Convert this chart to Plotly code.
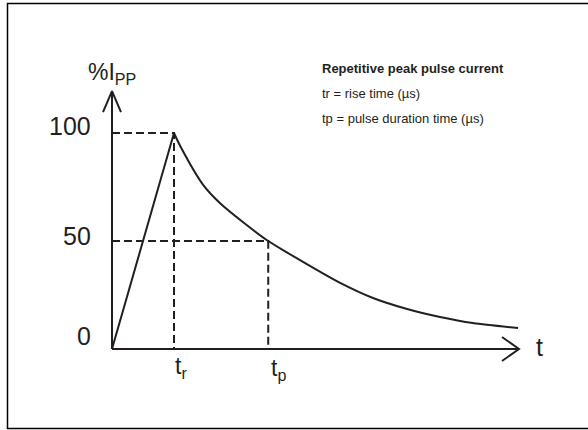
import plotly.graph_objects as go

# ---- data ----
t_rise = [0.0, 1.0]
i_rise = [0, 100]

t_decay = [1.0, 1.1, 1.47, 1.74, 2.11, 2.52, 2.84, 3.68, 4.21, 4.76, 5.29, 5.82, 6.55]
i_decay = [100, 94, 76, 67.6, 58.8, 50, 44.4, 30.6, 23.6, 18.5, 14.8, 12.0, 9.7]

t_r = 1.0
t_p = 2.52
y_ticks = [0, 50, 100]
y_tick_labels = ["0", "50", "100"]

legend_title = "Repetitive peak pulse current"
legend_lines = ["tr = rise time (µs)", "tp = pulse duration time (µs)"]

INK = "#231f20"
FONT = "Liberation Sans, Arial, sans-serif"

x_end = 6.565
y_top = 119.4

fig = go.Figure()

def line(xs, ys, dash="solid", width=2):
    fig.add_trace(go.Scatter(x=xs, y=ys, mode="lines", hoverinfo="skip",
                             line=dict(color=INK, width=width, dash=dash),
                             showlegend=False))

# axes
line([0, 0], [0, y_top])
line([0, x_end], [0, 0])
# arrow heads (open chevrons)
line([-0.145, 0, 0.145], [109.7, y_top, 109.7])
line([6.29, x_end, 6.29], [5.56, 0, -5.56])

# dashed guides
line([0, t_r, t_r], [100, 100, 0], dash="8px,4px")
line([0, t_p, t_p], [50, 50, 0], dash="8px,4px")

# pulse
line(t_rise, i_rise)
fig.add_trace(go.Scatter(x=t_decay, y=i_decay, mode="lines", hoverinfo="skip",
                         line=dict(color=INK, width=2, shape="spline", smoothing=0.8),
                         showlegend=False))

ann = []
# y tick labels
label_offsets = {0: 6, 50: 2.3, 100: 3.2}
for v, lab in zip(y_ticks, y_tick_labels):
    ann.append(dict(x=-0.31, y=v + label_offsets[v], text=lab, xanchor="right", yanchor="middle",
                    showarrow=False, font=dict(size=25, color=INK, family=FONT)))
# axis titles
ann.append(dict(x=0, y=127.5, text="%I<sub>PP</sub>", xanchor="center", yanchor="middle",
                showarrow=False, font=dict(size=23, color=INK, family=FONT)))
ann.append(dict(x=6.8, y=1, text="t", xanchor="left", yanchor="middle",
                showarrow=False, font=dict(size=25, color=INK, family=FONT)))
# time labels
ann.append(dict(x=t_r + 0.12, y=-8.5, text="t<sub>r</sub>", xanchor="center", yanchor="middle",
                showarrow=False, font=dict(size=23, color=INK, family=FONT)))
ann.append(dict(x=t_p + 0.16, y=-9.5, text="t<sub>p</sub>", xanchor="center", yanchor="middle",
                showarrow=False, font=dict(size=23, color=INK, family=FONT)))
# legend text block
ann.append(dict(x=(320 - 112) / 62, y=(349 - 68) / 2.16, text="<b>" + legend_title + "</b>",
                xanchor="left", yanchor="middle", showarrow=False,
                font=dict(size=13, color=INK, family=FONT)))
for k, txt in enumerate(legend_lines):
    ann.append(dict(x=(320 - 112) / 62, y=(349 - (93 + 25 * k)) / 2.16, text=txt,
                    xanchor="left", yanchor="middle", showarrow=False,
                    font=dict(size=13, color=INK, family=FONT)))

fig.update_layout(
    width=588, height=430,
    margin=dict(l=0, r=0, t=0, b=0),
    paper_bgcolor="white", plot_bgcolor="white",
    xaxis=dict(range=[-112 / 62, 476 / 62], visible=False, fixedrange=True),
    yaxis=dict(range=[-81 / 2.16, 349 / 2.16], visible=False, fixedrange=True),
    annotations=ann,
    shapes=[dict(type="rect", xref="paper", yref="paper",
                 x0=7.5 / 588, x1=1.02, y0=1 - 428.5 / 430, y1=1 - 3.5 / 430,
                 line=dict(color="black", width=1.5), fillcolor="rgba(0,0,0,0)", layer="above")],
)

fig.write_html("out.html",
               config={"displayModeBar": False, "staticPlot": True},
               post_script="document.body.style.margin='0';document.body.style.padding='0';"
                           "document.body.style.overflow='hidden';")
